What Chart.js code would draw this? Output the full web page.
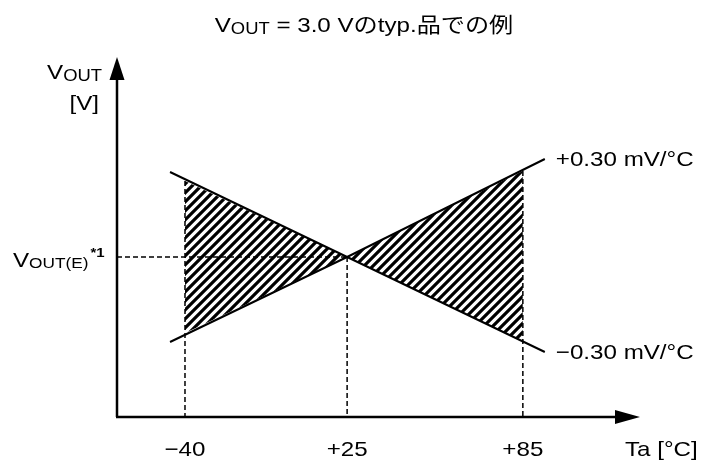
<!DOCTYPE html>
<html>
<head>
<meta charset="utf-8">
<script src="https://cdn.jsdelivr.net/npm/chart.js@4"></script>
<style>
  body { margin: 0; background: #fff; }
  #wrap { width: 705px; height: 461px; position: relative; }
</style>
</head>
<body>
<div id="wrap"><canvas id="tcChart"></canvas></div>
<script>
// temperature ticks on the Ta axis
const tempTicks = [-40, 25, 85];
const tickLabels = ['\u221240', '+25', '+85'];

// hatched band (deviation from VOUT(E), ~mV)
const hatchTemps = [-40, 25, 85];
const hatchTop = [19, 0, 21.5];
const hatchBottom = [-19, 0, -21];

// the two coefficient lines
const lineTemps = [-46, 25, 92.5];
const plusLine = [-21.25, 0, 24.5];
const minusLine = [21.25, 0, -23.75];
const lineLabels = ['+0.30 mV/\u00b0C', '\u22120.30 mV/\u00b0C'];

const FONT = "'Liberation Sans', Arial, 'Noto Sans CJK JP', sans-serif";
const SX = 1.15; // reference text is a bit wide

// schematic axis: -40..+25 and +25..+85 are not drawn to the same scale
class WarpScale extends Chart.LinearScale {
  static id = 'warp';
  static defaults = Chart.LinearScale.defaults;
  getPixelForValue(value) {
    const k = this.options.knots;
    let i = 0;
    while (i < k.length - 2 && value > k[i + 1][0]) i++;
    const [v0, f0] = k[i], [v1, f1] = k[i + 1];
    return this.getPixelForDecimal(f0 + (value - v0) / (v1 - v0) * (f1 - f0));
  }
}
Chart.register(WarpScale);

function hatchPattern() {
  const s = 9;
  const c = document.createElement('canvas');
  c.width = s; c.height = s;
  const g = c.getContext('2d');
  g.strokeStyle = '#000';
  g.lineWidth = 3.2;
  g.beginPath();
  g.moveTo(0, s); g.lineTo(s, 0);
  g.moveTo(-s / 2, s / 2); g.lineTo(s / 2, -s / 2);
  g.moveTo(s / 2, s * 1.5); g.lineTo(s * 1.5, s / 2);
  g.stroke();
  return g.createPattern(c, 'repeat');
}

// draws text pieces (for sub/superscripts) with a horizontal stretch
function drawParts(ctx, parts, x, y, align) {
  let total = 0;
  parts.forEach(p => {
    ctx.font = (p.bold ? 'bold ' : '') + p.size + 'px ' + FONT;
    p.w = ctx.measureText(p.t).width * SX;
    total += p.w + (p.gap || 0);
  });
  let cx = x;
  if (align === 'center') cx = x - total / 2;
  if (align === 'right') cx = x - total;
  ctx.textAlign = 'left';
  ctx.textBaseline = 'alphabetic';
  ctx.fillStyle = '#000';
  parts.forEach(p => {
    cx += p.gap || 0;
    ctx.font = (p.bold ? 'bold ' : '') + p.size + 'px ' + FONT;
    ctx.save();
    ctx.translate(cx, y + (p.dy || 0));
    ctx.scale(SX, 1);
    ctx.fillText(p.t, 0, 0);
    ctx.restore();
    cx += p.w;
  });
}

const diagram = {
  id: 'diagram',
  afterDatasetsDraw(chart) {
    const ctx = chart.ctx;
    const xs = chart.scales.x, ys = chart.scales.y;
    const a = chart.chartArea;
    ctx.save();

    // dashed guides
    ctx.strokeStyle = '#000';
    ctx.lineWidth = 1.5;
    ctx.setLineDash([5, 3]);
    ctx.beginPath();
    tempTicks.forEach((t, i) => {
      const px = xs.getPixelForValue(t);
      ctx.moveTo(px, ys.getPixelForValue(hatchTop[i]));
      ctx.lineTo(px, a.bottom);
    });
    const y0 = ys.getPixelForValue(0);
    ctx.moveTo(a.left, y0);
    ctx.lineTo(xs.getPixelForValue(25), y0);
    ctx.stroke();
    ctx.setLineDash([]);

    // axes with arrows
    ctx.lineWidth = 2.5;
    ctx.beginPath();
    ctx.moveTo(a.left, a.bottom);
    ctx.lineTo(a.left, a.top + 20);
    ctx.moveTo(a.left - 1, a.bottom);
    ctx.lineTo(a.right - 20, a.bottom);
    ctx.stroke();
    ctx.fillStyle = '#000';
    ctx.beginPath();
    ctx.moveTo(a.left, a.top);
    ctx.lineTo(a.left - 7.5, a.top + 23);
    ctx.lineTo(a.left + 7.5, a.top + 23);
    ctx.closePath();
    ctx.fill();
    ctx.beginPath();
    ctx.moveTo(a.right, a.bottom);
    ctx.lineTo(a.right - 25, a.bottom - 7);
    ctx.lineTo(a.right - 25, a.bottom + 7);
    ctx.closePath();
    ctx.fill();

    // title
    drawParts(ctx, [
      { t: 'V', size: 21 },
      { t: 'OUT', size: 16, dy: 2 },
      { t: ' = 3.0 V\u306etyp.\u54c1\u3067\u306e\u4f8b', size: 21 }
    ], 364, 32, 'center');

    // y axis name
    drawParts(ctx, [{ t: 'V', size: 21 }, { t: 'OUT', size: 16, dy: 2 }], a.left - 15, 79, 'right');
    drawParts(ctx, [{ t: '[V]', size: 21 }], a.left - 18, 110, 'right');
    drawParts(ctx, [
      { t: 'V', size: 21 },
      { t: 'OUT(E)', size: 15, dy: 1 },
      { t: '*1', size: 13, bold: true, dy: -10, gap: 2 }
    ], 13, y0 + 10, 'left');

    // x ticks and name
    tempTicks.forEach((t, i) => {
      drawParts(ctx, [{ t: tickLabels[i], size: 21 }], xs.getPixelForValue(t), 456, 'center');
    });
    drawParts(ctx, [{ t: 'Ta [\u00b0C]', size: 21 }], 625, 456, 'left');

    // line labels
    const lastX = xs.getPixelForValue(lineTemps[lineTemps.length - 1]) + 11;
    drawParts(ctx, [{ t: lineLabels[0], size: 21 }], lastX, ys.getPixelForValue(plusLine[2]) + 7, 'left');
    drawParts(ctx, [{ t: lineLabels[1], size: 21 }], lastX, ys.getPixelForValue(minusLine[2]) + 7, 'left');

    ctx.restore();
  }
};

const pts = (xv, yv) => xv.map((x, i) => ({ x: x, y: yv[i] }));

new Chart(document.getElementById('tcChart'), {
  type: 'line',
  data: {
    datasets: [
      { data: pts(hatchTemps, hatchTop), fill: '+1', backgroundColor: hatchPattern(), borderWidth: 0, pointRadius: 0 },
      { data: pts(hatchTemps, hatchBottom), fill: false, borderWidth: 0, pointRadius: 0 },
      { data: pts(lineTemps, plusLine), fill: false, borderColor: '#000', borderWidth: 2, pointRadius: 0, tension: 0 },
      { data: pts(lineTemps, minusLine), fill: false, borderColor: '#000', borderWidth: 2, pointRadius: 0, tension: 0 }
    ]
  },
  options: {
    responsive: true,
    maintainAspectRatio: false,
    animation: false,
    events: [],
    layout: { padding: { left: 117, right: 65, top: 57, bottom: 44 } },
    plugins: { legend: { display: false }, tooltip: { enabled: false } },
    scales: {
      x: { type: 'warp', min: -70, max: 130, display: false,
           knots: [[-40, 0.130], [25, 0.440], [85, 0.776]] },
      y: { type: 'linear', min: -40, max: 50, display: false }
    }
  },
  plugins: [diagram]
});
</script>
</body>
</html>
